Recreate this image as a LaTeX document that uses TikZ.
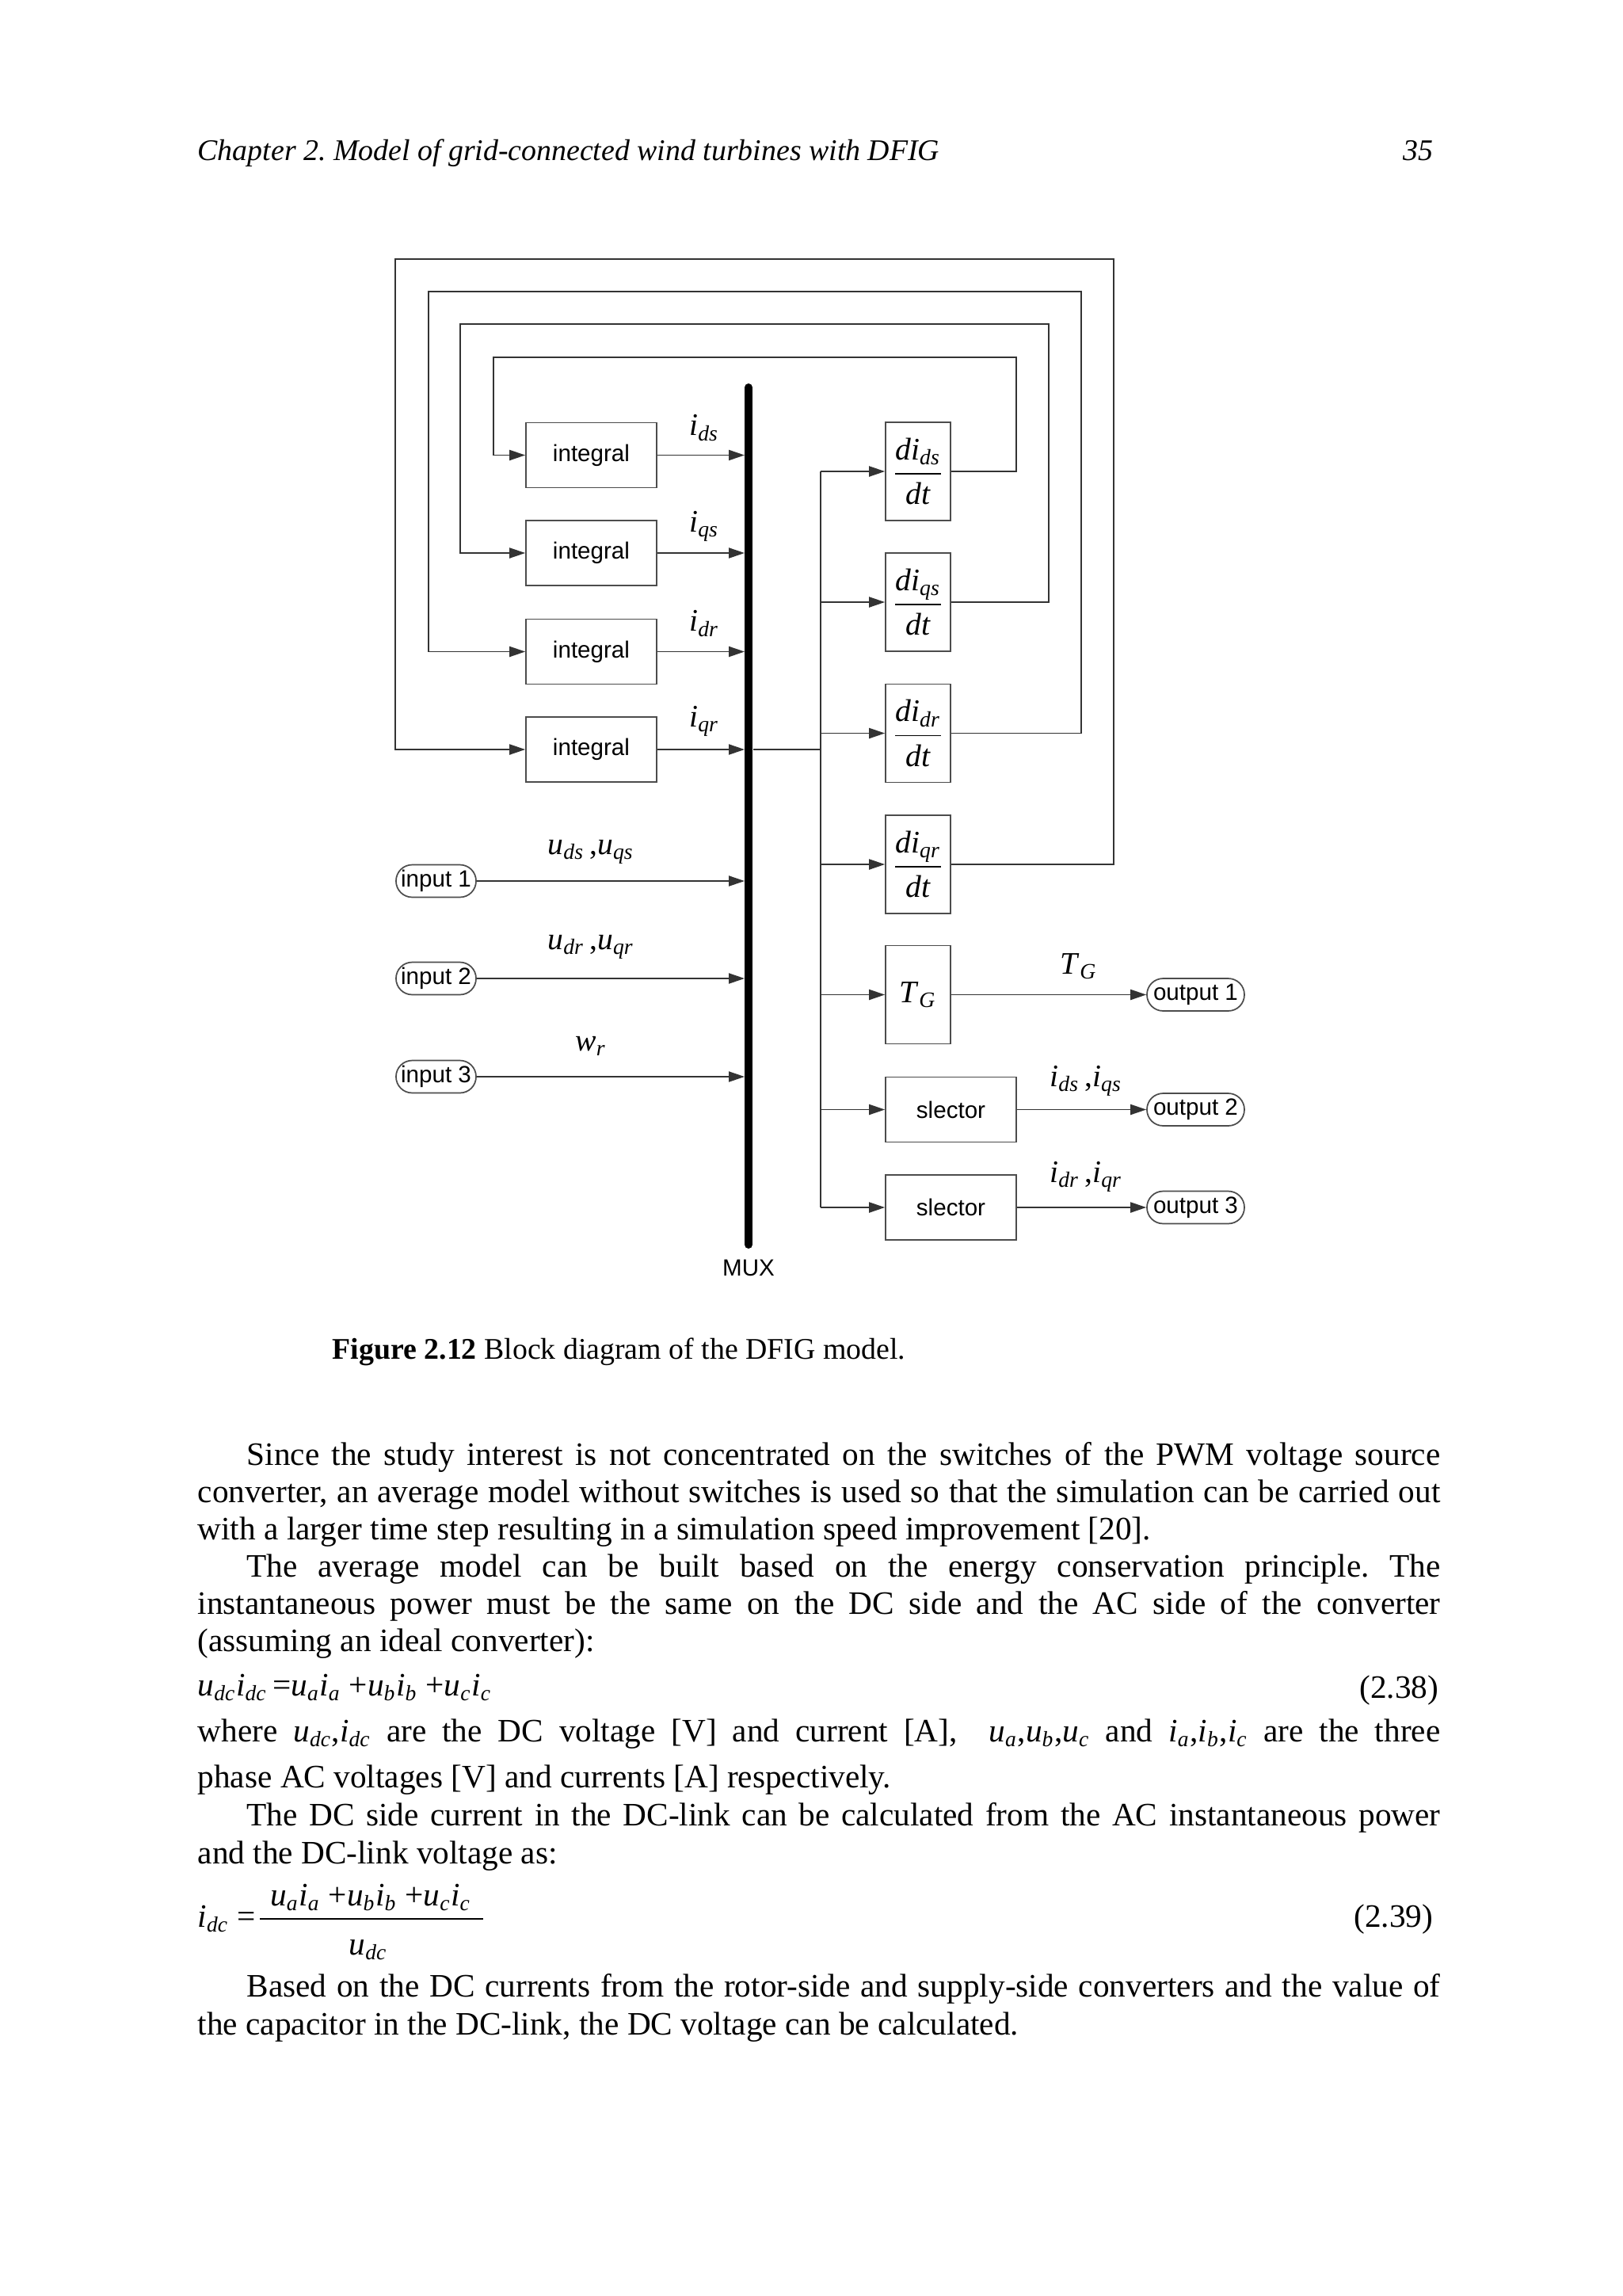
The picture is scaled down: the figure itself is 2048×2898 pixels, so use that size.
\documentclass[tikz,border=0pt]{standalone}
\usepackage{fontspec}
\setmainfont{Liberation Serif}
\newfontfamily\arialf{Liberation Sans}
\usetikzlibrary{arrows.meta}
\newcommand{\isub}[2]{\textit{#1}\textsubscript{\textit{#2}}}
\newcommand{\jl}[1]{\makebox[456pt][s]{#1}}
\newcommand{\dfr}[2]{$\displaystyle\frac{\mbox{#1}}{\mbox{#2}}$}
\begin{document}
\frenchspacing
\begin{tikzpicture}[x=0.29066pt,y=-0.29066pt,
  ln/.style={draw=black!80,line width=0.5pt},
  arr/.style={ln,-{Triangle[length=5.8pt,width=3.8pt]}},
  blk/.style={draw=black!70,line width=0.5pt,inner sep=0pt,font=\arialf\fontsize{8.6}{10}\selectfont},
  intb/.style={blk,minimum width=47.96pt,minimum height=23.83pt},
  derb/.style={blk,minimum width=23.83pt,minimum height=36.04pt,font=\fontsize{11.5}{13}\selectfont},
  port/.style={blk,rounded corners=5.9pt,minimum height=11.9pt},
  lab/.style={font=\fontsize{11.5}{13}\selectfont,inner sep=0pt},
  body/.style={font=\fontsize{12}{14}\selectfont,inner sep=0pt,anchor=base west}
]
\path[use as bounding box,fill=white] (0,0) rectangle (2048,2898);

% ---------- header ----------
\node[body,font=\itshape\fontsize{11}{13}\selectfont] (hdr) at (249,202) {Chapter 2. Model of grid-connected wind turbines with DFIG};
\node[body,anchor=base east,font=\itshape\fontsize{11}{13}\selectfont] (pg) at (1810,202) {35};

% ---------- diagram blocks ----------
\node[intb] (int1) at (746.5,574.5) {integral};
\node[intb] (int2) at (746.5,698) {integral};
\node[intb] (int3) at (746.5,822.5) {integral};
\node[intb] (int4) at (746.5,946) {integral};

\node[derb] (der1) at (1159,595) {\dfr{\isub{di}{ds}}{\textit{dt}}};
\node[derb] (der2) at (1159,760) {\dfr{\isub{di}{qs}}{\textit{dt}}};
\node[derb] (der3) at (1159,925.5) {\dfr{\isub{di}{dr}}{\textit{dt}}};
\node[derb] (der4) at (1159,1091) {\dfr{\isub{di}{qr}}{\textit{dt}}};
\node[derb] (tg) at (1159,1255.5) {\isub{T}{G}};
\node[intb] (sel1) at (1200.5,1400.5) {slector};
\node[intb] (sel2) at (1200.5,1524) {slector};

\node[port,minimum width=29.36pt] (in1) at (550.5,1112) {input 1};
\node[port,minimum width=29.36pt] (in2) at (550.5,1235) {input 2};
\node[port,minimum width=29.36pt] (in3) at (550.5,1359) {input 3};
\node[port,minimum width=35.75pt] (out1) at (1509.5,1255.5) {output 1};
\node[port,minimum width=35.75pt] (out2) at (1509.5,1400.5) {output 2};
\node[port,minimum width=35.75pt] (out3) at (1509.5,1524) {output 3};

% MUX bar
\coordinate (muxT) at (945,489);
\coordinate (muxB) at (945,1571);
\draw[line width=2.9pt,line cap=round] (muxT) -- (muxB);
\node[font=\arialf\fontsize{8.6}{10}\selectfont,inner sep=0pt] (muxlab) at (945,1600) {MUX};
\coordinate (muxL) at (940,0);
\coordinate (muxR) at (951,946);
\coordinate (br) at (1036,946);

% connectors into MUX
\foreach \k in {1,...,4} \draw[arr] (int\k.east) -- (int\k.east -| muxL);
\foreach \k in {1,2,3} \draw[arr] (in\k.east) -- (in\k.east -| muxL);

% MUX output branch
\draw[ln] (muxR) -- (br);
\draw[ln] (der1.west -| br) -- (sel2.west -| br);
\foreach \n in {der1,der2,der3,der4,tg,sel1,sel2} \draw[arr] (\n.west -| br) -- (\n.west);

% feedback loops
\coordinate (c4) at (623,451);
\coordinate (c3) at (581,409);
\coordinate (c2) at (541,368);
\coordinate (c1) at (499,327);
\draw[arr] (der1.east) -| (1283,451) -- (c4) |- (int1.west);
\draw[arr] (der2.east) -| (1324,409) -- (c3) |- (int2.west);
\draw[arr] (der3.east) -| (1365,368) -- (c2) |- (int3.west);
\draw[arr] (der4.east) -| (1406,327) -- (c1) |- (int4.west);

% outputs
\draw[arr] (tg.east) -- (out1.west);
\draw[arr] (sel1.east) -- (out2.west);
\draw[arr] (sel2.east) -- (out3.west);

% labels
\node[lab] (lids) at (889,540) {\isub{i}{ds}};
\node[lab] (liqs) at (889,664) {\isub{i}{qs}};
\node[lab] (lidr) at (889,787) {\isub{i}{dr}};
\node[lab] (liqr) at (889,910) {\isub{i}{qr}};
\node[lab] (lu1) at (746,1075) {\isub{u}{ds}\,,\isub{u}{qs}};
\node[lab] (lu2) at (746,1195) {\isub{u}{dr}\,,\isub{u}{qr}};
\node[lab] (lw) at (746,1320) {\isub{w}{r}};
\node[lab] (ltg) at (1362,1220) {\isub{T}{G}};
\node[lab] (lo2) at (1371,1364) {\isub{i}{ds}\,,\isub{i}{qs}};
\node[lab] (lo3) at (1371,1485) {\isub{i}{dr}\,,\isub{i}{qr}};

% ---------- caption ----------
\node[body,font=\fontsize{11}{13}\selectfont] (cap) at (419,1715) {\textbf{Figure 2.12} Block diagram of the DFIG model.};

% ---------- body text ----------
\node[body] (L1) at (249,1849) {\jl{\hspace*{18pt}Since the study interest is not concentrated on the switches of the PWM voltage source}};
\node[body] (L2) at (249,1896) {\jl{converter, an average model without switches is used so that the simulation can be carried out}};
\node[body] (L3) at (249,1943) {with a larger time step resulting in a simulation speed improvement [20].};
\node[body] (L4) at (249,1990) {\jl{\hspace*{18pt}The average model can be built based on the energy conservation principle. The}};
\node[body] (L5) at (249,2037) {\jl{instantaneous power must be the same on the DC side and the AC side of the converter}};
\node[body] (L6) at (249,2084) {(assuming an ideal converter):};
\node[body] (eq1) at (249,2140) {\isub{u}{dc}\isub{i}{dc}\,=\isub{u}{a}\isub{i}{a} +\isub{u}{b}\isub{i}{b} +\isub{u}{c}\isub{i}{c}};
\node[body,anchor=base east] (eqn1) at (1817,2143) {(2.38)};
\node[body] (L7) at (249,2198) {\jl{where \isub{u}{dc},\isub{i}{dc} are the DC voltage [V] and current [A], \ \isub{u}{a},\isub{u}{b},\isub{u}{c} and \isub{i}{a},\isub{i}{b},\isub{i}{c} are the three}};
\node[body] (L8) at (249,2256) {phase AC voltages [V] and currents [A] respectively.};
\node[body] (L9) at (249,2304) {\jl{\hspace*{18pt}The DC side current in the DC-link can be calculated from the AC instantaneous power}};
\node[body] (L10) at (249,2352) {and the DC-link voltage as:};
\node[body] (eq2l) at (249,2432) {\isub{i}{dc} =};
\node[body,anchor=base] (eq2n) at (468,2405) {\isub{u}{a}\isub{i}{a} +\isub{u}{b}\isub{i}{b} +\isub{u}{c}\isub{i}{c}};
\node[body,anchor=base] (eq2d) at (465,2467) {\isub{u}{dc}};
\draw[line width=0.6pt] (328,2422) -- (610,2422);
\node[body,anchor=base east] (eqn2) at (1810,2432) {(2.39)};
\node[body] (L11) at (249,2520) {\jl{\hspace*{18pt}Based on the DC currents from the rotor-side and supply-side converters and the value of}};
\node[body] (L12) at (249,2568) {the capacitor in the DC-link, the DC voltage can be calculated.};
\end{tikzpicture}
\end{document}
